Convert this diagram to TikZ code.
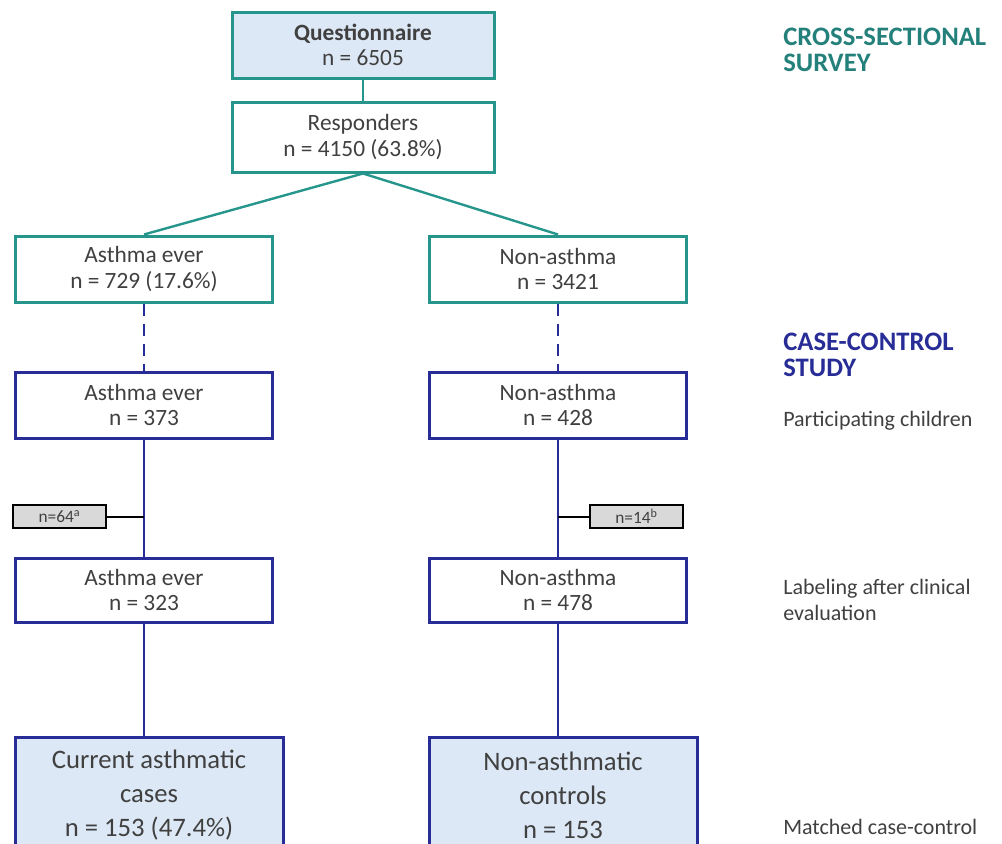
\documentclass[tikz,border=0pt]{standalone}
\usepackage{fontspec}
\setmainfont{Carlito}
\usepackage{tikz}

\definecolor{tealc}{RGB}{38,150,140}
\definecolor{tealtxt}{RGB}{36,128,122}
\definecolor{navyc}{RGB}{40,44,150}
\definecolor{boxfill}{RGB}{220,232,245}
\definecolor{greyfill}{RGB}{217,217,217}
\definecolor{txtc}{RGB}{64,64,64}

\tikzset{
  survbox/.style={draw=tealc, line width=2.25pt, fill=white, text=txtc, align=center,
    minimum width=192.75pt, minimum height=49.5pt, inner sep=2pt, font=\fontsize{17.5}{19}\selectfont},
  studbox/.style={survbox, draw=navyc},
  endbox/.style={studbox, fill=boxfill, minimum width=201pt, minimum height=86pt,
    font=\fontsize{20}{25.5}\selectfont},
  exclbox/.style={draw=black, line width=1.5pt, fill=greyfill, text=txtc,
    minimum width=69.75pt, minimum height=17.25pt, inner sep=1pt, font=\fontsize{13}{14}\selectfont},
  survline/.style={draw=tealc, line width=1.8pt},
  studline/.style={draw=navyc, line width=1.8pt},
  sidelabel/.style={anchor=west, align=left, text=txtc, inner sep=0pt, font=\fontsize{16.5}{19.5}\selectfont},
  phaselabel/.style={sidelabel, font=\bfseries\fontsize{20}{19.5}\selectfont},
}

\begin{document}
\begin{tikzpicture}[x=0.75pt,y=0.75pt,yscale=-1,xscale=1]
\useasboundingbox (0,0) rectangle (1002,843);

% cross-sectional survey
\node [survbox, fill=boxfill, minimum width=196.5pt] (quest) at (363,45) {\textbf{Questionnaire}\\n = 6505};
\node [survbox, minimum width=196.5pt, minimum height=52.5pt] (resp) at (363,137) {Responders\\n = 4150 (63.8\%)};
\node [survbox] (asthA) at (144,269) {Asthma ever\\n = 729 (17.6\%)};
\node [survbox] (nonA) at (558,269) {Non-asthma\\n = 3421};

% case-control study
\node [studbox] (asthB) at (144,405) {Asthma ever\\n = 373};
\node [studbox] (nonB) at (558,405) {Non-asthma\\n = 428};
\node [studbox, minimum height=48pt] (asthC) at (144,590) {Asthma ever\\n = 323};
\node [studbox, minimum height=48pt] (nonC) at (558,590) {Non-asthma\\n = 478};
\node [endbox] (cases) at (149,795) {Current asthmatic\\cases\\n = 153 (47.4\%)};
\node [endbox] (ctrls) at (563,795) {Non-asthmatic\\controls\\n = 153};

% excluded / relabelled
\node [exclbox] (exclA) at (59.5,516.5) {n=64\textsuperscript{a}};
\node [exclbox] (exclB) at (636.5,516.5) {n=14\textsuperscript{b}};

% connectors
\draw [survline] (quest) -- (resp);
\draw [survline] (resp.south) -- (asthA.north);
\draw [survline] (resp.south) -- (nonA.north);
\draw [studline, dash pattern={on 9pt off 6pt}] (asthA) -- (asthB);
\draw [studline, dash pattern={on 9pt off 6pt}] (nonA) -- (nonB);
\draw [studline] (asthB) -- (asthC);
\draw [studline] (nonB) -- (nonC);
\draw [studline] (asthC.south) -- (asthC.south |- cases.north);
\draw [studline] (nonC.south) -- (nonC.south |- ctrls.north);
\draw [line width=1.5pt] (exclA.east) -- (exclA.east -| asthB.south);
\draw [line width=1.5pt] (exclB.west) -- (exclB.west -| nonB.south);

% phase labels
\node [phaselabel, text=tealtxt] (survlab) at (783,50) {CROSS-SECTIONAL\\SURVEY};
\node [phaselabel, text=navyc] (studlab) at (783,355) {CASE-CONTROL\\STUDY};
\node [sidelabel] (partlab) at (783,421) {Participating children};
\node [sidelabel] (evallab) at (783,600) {Labeling after clinical\\evaluation};
\node [sidelabel] (matchlab) at (783,827) {Matched case-control};
\end{tikzpicture}
\end{document}
